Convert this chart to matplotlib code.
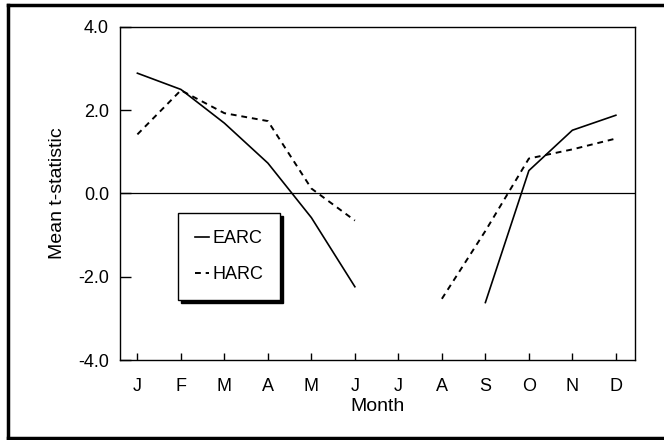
import matplotlib
matplotlib.use("Agg")
import matplotlib.pyplot as plt
import numpy as np
from matplotlib.lines import Line2D

plt.rcParams['font.family'] = ['Liberation Sans', 'DejaVu Sans']
plt.rcParams['axes.unicode_minus'] = False

### values (NaN = no value plotted) ###
months = ['J', 'F', 'M', 'A', 'M', 'J', 'J', 'A', 'S', 'O', 'N', 'D']
month_num = np.arange(1, 13)
earc = [2.89, 2.50, 1.69, 0.73, -0.58, -2.24, np.nan, np.nan, -2.62, 0.55, 1.52, 1.88]
harc = [1.42, 2.48, 1.93, 1.74, 0.12, -0.65, np.nan, -2.53, -0.90, 0.84, 1.06, 1.32]
yticks = [-4.0, -2.0, 0.0, 2.0, 4.0]

fig = plt.figure(figsize=(6.64, 4.4), dpi=100)
ax = fig.add_axes([120/664, 80/440, 515/664, 333/440])

ax.axhline(0, color='black', lw=0.9)
ax.plot(month_num, earc, color='black', lw=1.2, label='EARC')
ax.plot(month_num, harc, color='black', lw=1.4, linestyle=(0, (3, 2.5)), label='HARC')

ax.set_xlim(0.6, 12.44)
ax.set_ylim(-4, 4)
ax.set_xticks(month_num)
ax.set_xticklabels(months)
ax.set_yticks(yticks)
ax.set_yticklabels(['%.1f' % v for v in yticks])

ax.tick_params(axis='x', direction='in', length=5, width=1, pad=13, labelsize=13, top=False)
ax.tick_params(axis='y', direction='in', length=8, width=1, pad=8, labelsize=13, right=False)
for s in ax.spines.values():
    s.set_linewidth(1.0)

ax.set_xlabel('Month', fontsize=14, labelpad=2)
ax.set_ylabel('Mean t-statistic', fontsize=14, labelpad=9)

leg = ax.legend(loc='upper left', bbox_to_anchor=(0.1126, 0.441), borderaxespad=0,
                fontsize=13, handlelength=0.75, handletextpad=0.2, labelspacing=1.05,
                borderpad=0.95, fancybox=False, framealpha=1,
                shadow={'color': 'black', 'alpha': 1})
leg.get_frame().set_edgecolor('black')
leg.get_frame().set_linewidth(1.0)

### outer frame ###
fig.add_artist(Line2D([8/664, 8/664], [2/440, 435/440], color='black', lw=2.5, transform=fig.transFigure))
fig.add_artist(Line2D([8/664, 1.0], [435/440, 435/440], color='black', lw=2.5, transform=fig.transFigure))
fig.add_artist(Line2D([8/664, 1.0], [2/440, 2/440], color='black', lw=2.5, transform=fig.transFigure))

fig.savefig('out.png', dpi=100)
